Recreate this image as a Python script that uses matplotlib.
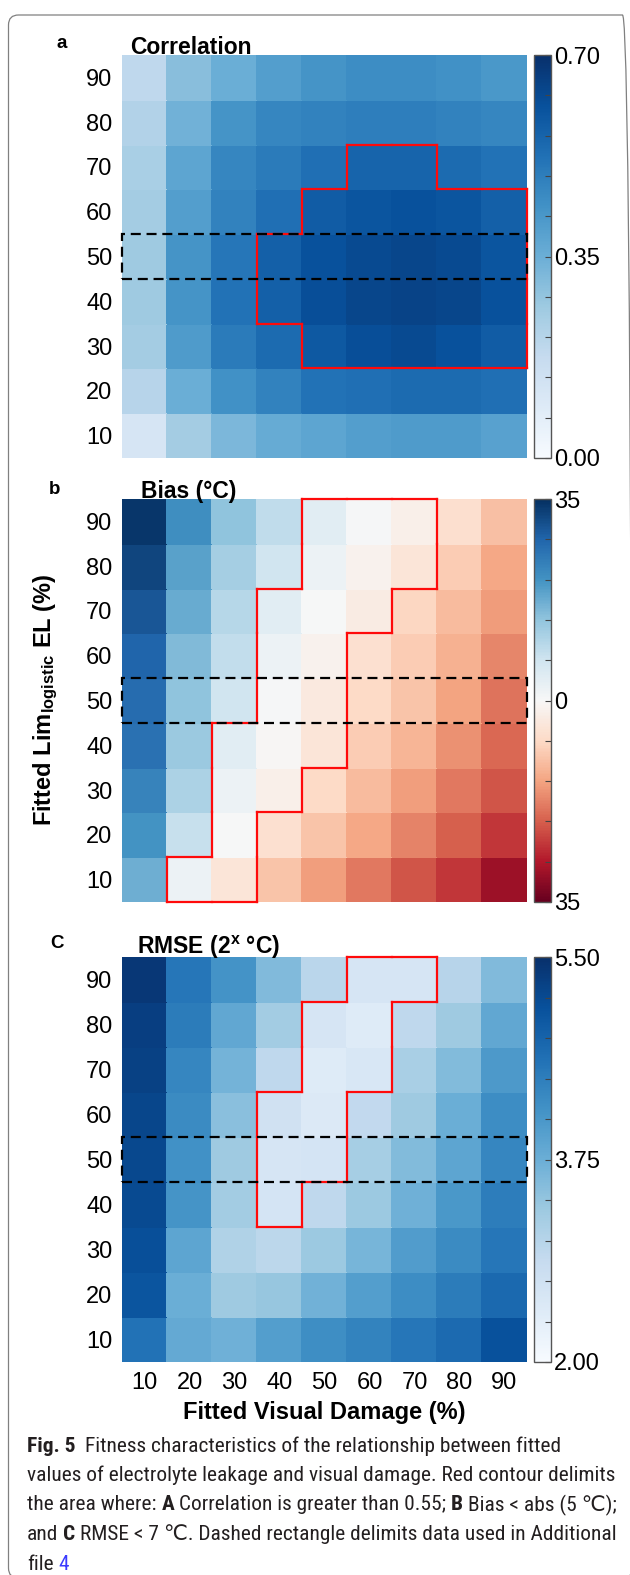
import matplotlib

matplotlib.use("Agg")
import matplotlib.pyplot as plt
import numpy as np
from matplotlib.collections import LineCollection
from matplotlib.patches import FancyBboxPatch, Rectangle

plt.rcParams["font.family"] = ["Liberation Sans", "DejaVu Sans"]
plt.rcParams["mathtext.fontset"] = "custom"
plt.rcParams["mathtext.rm"] = "Liberation Sans"
plt.rcParams["mathtext.bf"] = "Liberation Sans:bold"
plt.rcParams["mathtext.it"] = "Liberation Sans:italic"

W_PX, H_PX = 630, 1575

# categories (%)
VISUAL_DAMAGE = [10, 20, 30, 40, 50, 60, 70, 80, 90]
EL_LIMIT = [10, 20, 30, 40, 50, 60, 70, 80, 90]

# rows as read in the figure: EL 90 (top) ... EL 10 (bottom)
CORRELATION = [
    [0.19, 0.30, 0.35, 0.40, 0.43, 0.45, 0.45, 0.44, 0.42],
    [0.22, 0.34, 0.43, 0.47, 0.48, 0.49, 0.49, 0.48, 0.47],
    [0.24, 0.38, 0.47, 0.50, 0.53, 0.56, 0.56, 0.54, 0.52],
    [0.25, 0.40, 0.48, 0.53, 0.58, 0.60, 0.61, 0.60, 0.57],
    [0.26, 0.43, 0.51, 0.57, 0.61, 0.63, 0.64, 0.63, 0.60],
    [0.26, 0.43, 0.52, 0.57, 0.62, 0.64, 0.65, 0.64, 0.61],
    [0.25, 0.41, 0.50, 0.54, 0.59, 0.62, 0.63, 0.61, 0.58],
    [0.21, 0.35, 0.44, 0.48, 0.52, 0.53, 0.54, 0.54, 0.53],
    [0.12, 0.25, 0.32, 0.36, 0.38, 0.40, 0.41, 0.41, 0.39],
]
BIAS = [
    [34.0, 21.7, 14.0, 9.0, 4.0, 0.5, -2.0, -6.0, -10.5],
    [32.0, 19.0, 12.0, 7.0, 2.0, -1.5, -4.5, -9.0, -13.5],
    [30.0, 17.5, 10.0, 4.0, 0.0, -3.0, -7.5, -11.0, -15.0],
    [28.0, 15.5, 8.5, 2.0, -1.5, -5.5, -9.0, -12.5, -17.0],
    [27.0, 14.0, 7.0, 0.5, -3.5, -7.0, -10.0, -14.0, -19.0],
    [26.0, 13.0, 4.0, -0.5, -4.5, -9.0, -12.0, -16.0, -20.0],
    [23.5, 11.0, 2.0, -2.0, -7.0, -11.0, -14.5, -18.5, -22.0],
    [21.0, 8.0, 0.0, -5.5, -10.0, -13.5, -17.5, -21.0, -25.0],
    [17.0, 2.0, -4.5, -10.0, -14.5, -18.5, -22.0, -25.0, -30.0],
]
RMSE_LOG2 = [
    [5.40, 4.55, 4.17, 3.57, 3.00, 2.60, 2.60, 3.05, 3.57],
    [5.30, 4.48, 3.85, 3.26, 2.60, 2.45, 2.95, 3.30, 3.85],
    [5.28, 4.35, 3.68, 2.95, 2.45, 2.55, 3.20, 3.55, 4.07],
    [5.20, 4.28, 3.48, 2.70, 2.48, 2.92, 3.30, 3.75, 4.25],
    [5.18, 4.20, 3.30, 2.60, 2.62, 3.22, 3.55, 3.90, 4.35],
    [5.15, 4.15, 3.26, 2.62, 2.95, 3.33, 3.72, 4.10, 4.47],
    [5.08, 3.90, 3.12, 2.99, 3.33, 3.65, 4.03, 4.27, 4.55],
    [5.00, 3.76, 3.30, 3.37, 3.70, 4.00, 4.25, 4.48, 4.73],
    [4.60, 3.82, 3.72, 4.00, 4.23, 4.38, 4.55, 4.72, 5.05],
]

CORR_LIMIT = 0.55
BIAS_LIMIT = 5.0
RMSE_LIMIT = 7.0  # degC, panel C is on a log2 scale
SELECTED_EL = 50  # dashed rectangle row

CBAR_LABELS = {
    "a": ["0.00", "0.35", "0.70"],
    "b": ["35", "0", "35"],
    "c": ["2.00", "3.75", "5.50"],
}

CAPTION = [
    [("Fig. 5", "bold", None), 2, ("Fitness characteristics of the relationship between fitted", "normal", None)],
    [("values of electrolyte leakage and visual damage. Red contour delimits", "normal", None)],
    [("the area where:", "normal", None), 1, ("A", "bold", None), 1,
     ("Correlation is greater than 0.55;", "normal", None), 1, ("B", "bold", None), 1,
     ("Bias < abs (5 \u2103);", "normal", None)],
    [("and", "normal", None), 1, ("C", "bold", None), 1,
     ("RMSE < 7 \u2103. Dashed rectangle delimits data used in Additional", "normal", None)],
    [("file", "normal", None), 1, ("4", "normal", "#3b3bff")],
]


def fx(px):
    return px / W_PX


def fy(py):
    return 1 - py / H_PX


def outline_segments(mask):
    """Edges of the cells in mask that border a cell outside it (data coords)."""
    segs = []
    n_r, n_c = mask.shape
    for i in range(n_r):
        for j in range(n_c):
            if not mask[i, j]:
                continue
            x0, x1 = VISUAL_DAMAGE[j] - 5, VISUAL_DAMAGE[j] + 5
            y0, y1 = EL_LIMIT[i] - 5, EL_LIMIT[i] + 5
            if i == 0 or not mask[i - 1, j]:
                segs.append([(x0, y0), (x1, y0)])
            if i == n_r - 1 or not mask[i + 1, j]:
                segs.append([(x0, y1), (x1, y1)])
            if j == 0 or not mask[i, j - 1]:
                segs.append([(x0, y0), (x0, y1)])
            if j == n_c - 1 or not mask[i, j + 1]:
                segs.append([(x1, y0), (x1, y1)])
    return segs


fig = plt.figure(figsize=(6.3, 15.75), dpi=100)

panels = [
    # key, data, cmap, vmin, vmax, rule, title, title_x, top, bottom, label, label_xy
    ("a", np.array(CORRELATION)[::-1], "Blues", 0.0, 0.70,
     lambda d: d > CORR_LIMIT, "Correlation", 130, 55, 458, "a", (62, 43)),
    ("b", np.array(BIAS)[::-1], "RdBu", -35.0, 35.0,
     lambda d: np.abs(d) < BIAS_LIMIT, "Bias (°C)", 141, 499, 902, "b", (55, 490)),
    ("c", np.array(RMSE_LOG2)[::-1], "Blues", 2.0, 5.50,
     lambda d: d < np.log2(RMSE_LIMIT), r"RMSE (2$^{\mathbf{x}}$ °C)", 137, 957, 1362, "C", (57, 943)),
]

edges_x = np.array([v - 5 for v in VISUAL_DAMAGE] + [VISUAL_DAMAGE[-1] + 5])
edges_y = np.array([v - 5 for v in EL_LIMIT] + [EL_LIMIT[-1] + 5])
left_px, right_px = 122, 527
cb_left, cb_right = 534, 551

for key, data, cmap, vmin, vmax, rule, title, title_x, top, bottom, label, lab_xy in panels:
    ax = fig.add_axes([fx(left_px), fy(bottom), (right_px - left_px) / W_PX, (bottom - top) / H_PX])
    mesh = ax.pcolormesh(edges_x, edges_y, data, cmap=cmap, vmin=vmin, vmax=vmax,
                         edgecolor="face", linewidth=0.3)
    ax.set_xlim(edges_x[0], edges_x[-1])
    ax.set_ylim(edges_y[0], edges_y[-1])
    for s in ax.spines.values():
        s.set_visible(False)
    ax.set_yticks(EL_LIMIT)
    ax.set_yticklabels([str(v) for v in EL_LIMIT])
    ax.set_xticks(VISUAL_DAMAGE)
    if key == "c":
        ax.set_xticklabels([str(v) for v in VISUAL_DAMAGE])
    else:
        ax.set_xticklabels([])
    ax.tick_params(length=0, labelsize=17, pad=7)

    lc = LineCollection(outline_segments(rule(data)), colors="#ff0a0a", linewidths=1.6,
                        capstyle="projecting", zorder=3, clip_on=False)
    ax.add_collection(lc)
    ax.add_patch(Rectangle((edges_x[0], SELECTED_EL - 5), edges_x[-1] - edges_x[0], 10,
                           fill=False, edgecolor="black", linewidth=1.6,
                           linestyle=(0, (4.5, 2.6)), zorder=4, clip_on=False))

    fig.text(fx(title_x), fy(top + 4), title, fontsize=16.5, fontweight="bold",
             ha="left", va="bottom")
    fig.text(fx(lab_xy[0]), fy(lab_xy[1]), label, fontsize=13.5, fontweight="bold",
             ha="center", va="center")

    cax = fig.add_axes([fx(cb_left), fy(bottom), (cb_right - cb_left) / W_PX, (bottom - top) / H_PX])
    cb = fig.colorbar(mesh, cax=cax)
    ticks = np.linspace(vmin, vmax, 11)
    cb.set_ticks(ticks)
    names = [""] * 11
    names[0], names[5], names[10] = CBAR_LABELS[key]
    cb.set_ticklabels(names)
    cb.outline.set_edgecolor("#555555")
    cb.outline.set_linewidth(1.0)
    cax.tick_params(direction="in", length=4, width=0.8, color="#444444", labelsize=17, pad=2)

fig.text(fx(46), fy(700), r"Fitted Lim$_{\mathbf{logistic}}$ EL (%)", rotation=90,
         fontsize=17, fontweight="bold", ha="center", va="center")
fig.text(fx((left_px + right_px) / 2), fy(1412), "Fitted Visual Damage (%)",
         fontsize=17, fontweight="bold", ha="center", va="center")

# figure frame (rounded box, right and bottom sides fall outside the image)
fig.add_artist(FancyBboxPatch((0.085, -0.03), 6.24, 15.63,
                              boxstyle="round,pad=0,rounding_size=0.1",
                              transform=fig.dpi_scale_trans, fill=False,
                              edgecolor="#808080", linewidth=0.9))

# caption, drawn piece by piece so bold words and the blue link sit inline
CAPTION_FONT = ["Roboto Condensed", "Liberation Sans Narrow", "Roboto", "DejaVu Sans"]
renderer = fig.canvas.get_renderer()


def text_width(s, size, weight="normal"):
    t = fig.text(0, 0, s, fontsize=size, fontweight=weight, family=CAPTION_FONT)
    w = t.get_window_extent(renderer).width
    t.remove()
    return w


ref_line = CAPTION[1][0][0]
cap_size = 10 * 586 / text_width(ref_line, 10)
space_w = text_width("a a", cap_size) - text_width("aa", cap_size)

for k, parts in enumerate(CAPTION):
    x = 27.0
    y = 1446 + 29.5 * k
    for part in parts:
        if isinstance(part, int):
            x += part * space_w
            continue
        s, weight, color = part
        t = fig.text(fx(x), fy(y), s, fontsize=cap_size, fontweight=weight,
                     color=color or "#231f20", family=CAPTION_FONT, ha="left", va="center")
        x += t.get_window_extent(renderer).width

fig.savefig("out.png", dpi=100)
